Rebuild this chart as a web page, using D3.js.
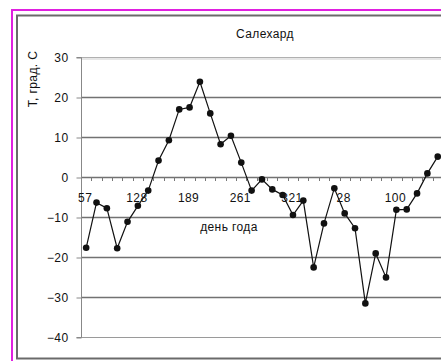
<!DOCTYPE html>
<html>
<head>
<meta charset="utf-8">
<script src="https://cdn.jsdelivr.net/npm/d3@7"></script>
<style>
  html, body { margin: 0; padding: 0; background: #fff; }
  svg { display: block; font-family: "Liberation Sans", Arial, sans-serif; }
  svg text { letter-spacing: 0.4px; }
</style>
</head>
<body>
<svg id="chart" width="441" height="361"></svg>
<script>
// Mean temperature, Salekhard, roughly every two weeks
const temps = [
  -17.7, -6.4, -7.8, -17.8, -11.2, -7.2, -3.4, 4.1, 9.2, 16.9,
  17.4, 23.8, 15.9, 8.2, 10.3, 3.6, -3.4, -0.6, -3.1, -4.5,
  -9.5, -5.9, -22.6, -11.6, -2.8, -9.1, -12.8, -31.6, -19.1, -25.1,
  -8.2, -8.1, -4.1, 0.9, 5.1
];
// Day-of-year labels shown on the category axis (every 5th point)
const dayLabels = ["57", "128", "189", "261", "321", "28", "100"];
const labelStep = 5;
const yTicks = [30, 20, 10, 0, -10, -20, -30, -40];

const title = "Салехард";
const yTitle = "Т, град. С";
const xTitle = "день года";

const svg = d3.select("#chart");
const fontSize = 12;

// Outer frame and chart-area border
svg.append("rect").attr("x", 12).attr("y", 10).attr("width", 600).attr("height", 360)
  .attr("fill", "#fff").attr("stroke", "#e020e0").attr("stroke-width", 2);
svg.append("rect").attr("x", 17).attr("y", 15.5).attr("width", 590).attr("height", 343)
  .attr("fill", "#fff").attr("stroke", "#6a6a6a").attr("stroke-width", 2);

const plot = { left: 81, top: 57, bottom: 337 };
const step = 10.34;

const x = d3.scaleBand()
  .domain(d3.range(temps.length))
  .range([plot.left, plot.left + step * temps.length]);
const y = d3.scaleLinear().domain([-40, 30]).range([plot.bottom, plot.top]);

const plotRight = 450;

// Horizontal gridlines
svg.append("g").selectAll("line").data(yTicks).join("line")
  .attr("x1", plot.left).attr("x2", plotRight)
  .attr("y1", d => y(d) + 0.5).attr("y2", d => y(d) + 0.5)
  .attr("stroke", d => (d === 30 ? "#b0b0b0" : d === -40 ? "#9a9a9a" : "#727272"))
  .attr("stroke-width", d => (d === 30 || d === -40 ? 1 : 1.4));
svg.append("line").attr("x1", plot.left).attr("x2", plotRight)
  .attr("y1", y(30) + 2).attr("y2", y(30) + 2).attr("stroke", "#e6e6e6").attr("stroke-width", 2);

// Value axis
const yAxis = d3.axisLeft(y).tickValues(yTicks).tickSize(5).tickPadding(8).tickFormat(d3.format("d"));
const gy = svg.append("g").attr("transform", `translate(${plot.left + 0.5},0.5)`).call(yAxis);
gy.select(".domain").attr("stroke", "#888").attr("d", `M-5,${y(30)}H0V${y(-40)}H-5`);
gy.selectAll(".tick line").attr("stroke", "#888");
gy.selectAll(".tick text").attr("font-size", fontSize).attr("fill", "#111")
  .attr("font-family", "Liberation Sans, Arial, sans-serif");

// Category axis crossing at zero: tick marks between categories
const boundaries = d3.range(1, temps.length + 1).map(i => plot.left + step * i);
svg.append("g").selectAll("line").data(boundaries).join("line")
  .attr("x1", d => Math.round(d) + 0.5).attr("x2", d => Math.round(d) + 0.5)
  .attr("y1", y(0)).attr("y2", y(0) + 4)
  .attr("stroke", "#777");

svg.append("g").selectAll("text").data(dayLabels).join("text")
  .attr("x", (d, i) => x(i * labelStep) + x.bandwidth() / 2 - 1)
  .attr("y", 202)
  .attr("text-anchor", "middle")
  .attr("font-size", fontSize).attr("fill", "#111")
  .text(d => d);

// Temperature line with markers
const cx = i => x(i) + x.bandwidth() / 2;
svg.append("path").datum(temps)
  .attr("fill", "none").attr("stroke", "#111").attr("stroke-width", 1.2)
  .attr("d", d3.line().x((d, i) => cx(i)).y(d => y(d)));
svg.append("g").selectAll("circle").data(temps).join("circle")
  .attr("cx", (d, i) => cx(i)).attr("cy", d => y(d)).attr("r", 3.3)
  .attr("fill", "#111");

// Titles
svg.append("text").attr("x", 265).attr("y", 38).attr("text-anchor", "middle")
  .attr("font-size", fontSize).attr("fill", "#111").text(title);
svg.append("text").attr("transform", "translate(37,79) rotate(-90)")
  .attr("text-anchor", "middle").attr("font-size", fontSize).attr("fill", "#111").text(yTitle);
svg.append("text").attr("x", 229).attr("y", 231).attr("text-anchor", "middle")
  .attr("font-size", fontSize).attr("fill", "#111").text(xTitle);
</script>
</body>
</html>
